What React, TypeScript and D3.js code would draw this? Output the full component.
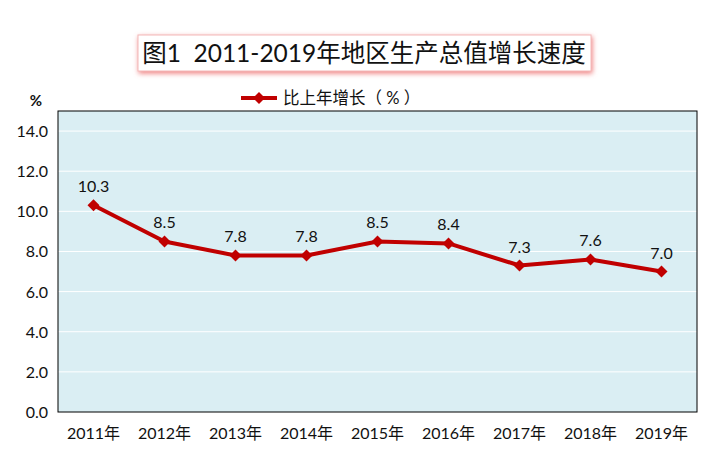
import React from "react";
import * as d3 from "d3";

const years = ["2011年", "2012年", "2013年", "2014年", "2015年", "2016年", "2017年", "2018年", "2019年"];
const growth = [10.3, 8.5, 7.8, 7.8, 8.5, 8.4, 7.3, 7.6, 7.0];
const yTicks = [0, 2, 4, 6, 8, 10, 12, 14];
const seriesName = "比上年增长（ % ）";
const title = "图1  2011-2019年地区生产总值增长速度";

const W = 724, H = 456;
const left = 58, right = 697, top = 111, bottom = 412;
const font = "Lato, 'Noto Sans CJK SC', sans-serif";
const red = "#C00000";

export default function App() {
  const x = d3.scaleBand<string>().domain(years).range([left, right]);
  const y = d3.scaleLinear().domain([0, 15]).range([bottom, top]);
  const line = d3.line<number>()
    .x((_, i) => x(years[i])! + x.bandwidth() / 2)
    .y((d) => y(d));
  const diamond = (cx: number, cy: number, r: number) =>
    `M${cx},${cy - r}L${cx + r},${cy}L${cx},${cy + r}L${cx - r},${cy}Z`;
  return (
    <svg width={W} height={H} style={{ position: "absolute", left: 0, top: 0, background: "#fff" }}>
      <defs>
        <filter id="glow" x="-10%" y="-40%" width="120%" height="180%">
          <feGaussianBlur in="SourceAlpha" stdDeviation="2.5" />
          <feOffset dx="1" dy="2" result="b" />
          <feFlood floodColor="#f08080" />
          <feComposite in2="b" operator="in" />
          <feMerge>
            <feMergeNode />
            <feMergeNode in="SourceGraphic" />
          </feMerge>
        </filter>
      </defs>
      <rect x={138} y={35} width={453} height={36} fill="#fff" stroke="#f4b8b8" strokeWidth={1} filter="url(#glow)" />
      <text x={364} y={62} textAnchor="middle" fontSize={24.5} fontFamily={font} fill="#111" style={{ whiteSpace: "pre" }}>{title}</text>

      <line x1={241} x2={277} y1={98} y2={98} stroke={red} strokeWidth={4} />
      <path d={diamond(259, 98, 6)} fill={red} />
      <text x={283} y={104} fontSize={16.5} fontFamily={font} fill="#111" style={{ whiteSpace: "pre" }}>{seriesName}</text>

      <text x={36} y={106} textAnchor="middle" fontSize={15} fontFamily={font} fill="#111" fontWeight="bold">%</text>

      <rect x={left} y={top} width={right - left} height={bottom - top} fill="#DAEEF3" />
      {yTicks.map((t) => (
        <g key={t}>
          {t > 0 && <line x1={left} x2={right} y1={y(t)} y2={y(t)} stroke="#fff" strokeWidth={1} />}
          <text x={48} y={y(t) + 6} textAnchor="end" fontSize={16} fontFamily={font} fill="#111">{t.toFixed(1)}</text>
        </g>
      ))}
      <rect x={left} y={top} width={right - left} height={bottom - top} fill="none" stroke="#000" strokeWidth={1} />
      {years.map((yr) => (
        <text key={yr} x={x(yr)! + x.bandwidth() / 2} y={439} textAnchor="middle" fontSize={16} fontFamily={font} fill="#111">{yr}</text>
      ))}
      <path d={line(growth)!} fill="none" stroke={red} strokeWidth={4} strokeLinejoin="round" />
      {growth.map((v, i) => {
        const cx = x(years[i])! + x.bandwidth() / 2;
        const cy = y(v);
        return (
          <g key={i}>
            <path d={diamond(cx, cy, 6)} fill={red} />
            <text x={cx} y={cy - 13} textAnchor="middle" fontSize={16} fontFamily={font} fill="#111">{v.toFixed(1)}</text>
          </g>
        );
      })}
    </svg>
  );
}
